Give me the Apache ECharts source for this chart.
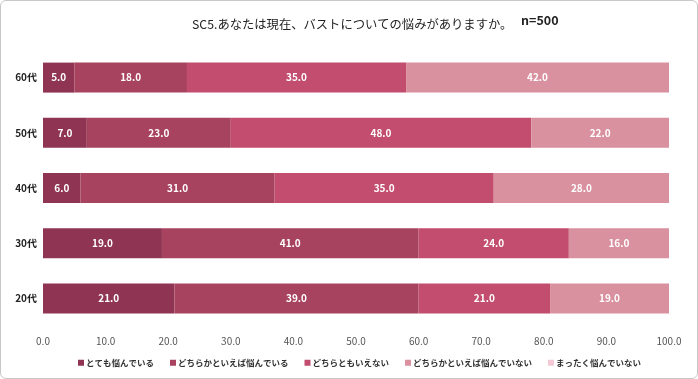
<!DOCTYPE html>
<html><head><meta charset="utf-8">
<script src="https://cdn.jsdelivr.net/npm/echarts@6/dist/echarts.min.js"></script>
<style>html,body{margin:0;padding:0;background:#fff}#c{width:698px;height:379px;box-sizing:border-box;border:1px solid #c8c8c8;border-radius:6px}</style>
</head><body><div id="c"></div>
<script>
const categories = ['20代','30代','40代','50代','60代'];
const seriesNames = ['とても悩んでいる','どちらかといえば悩んでいる','どちらともいえない','どちらかといえば悩んでいない','まったく悩んでいない'];
const s1 = [21.0, 19.0, 6.0, 7.0, 5.0];
const s2 = [39.0, 41.0, 31.0, 23.0, 18.0];
const s3 = [21.0, 24.0, 35.0, 48.0, 35.0];
const s4 = [19.0, 16.0, 28.0, 22.0, 42.0];
const s5 = [0, 0, 0, 0, 0];
const xTicks = [0,10,20,30,40,50,60,70,80,90,100];
const colors = ['#8f3553','#a8435f','#c24d6e','#d9909f','#f2c9d5'];
const font = '"Noto Sans CJK JP", sans-serif';
const chart = echarts.init(document.getElementById('c'));
const all = [s1,s2,s3,s4,s5];
chart.setOption({
  animation:false,
  title:{text:'SC5.あなたは現在、バストについての悩みがありますか。',left:186,top:12,textStyle:{fontFamily:font,fontSize:12.3,fontWeight:'normal',color:'#222'}},
  graphic:[{type:'text',left:520,top:13,style:{text:'n=500',font:'bold 12.5px '+font,fill:'#222'}}],
  legend:{bottom:6,left:72,itemWidth:6,itemHeight:6,itemGap:16,icon:'rect',textStyle:{fontFamily:font,fontSize:8.5,fontWeight:'bold',color:'#333',padding:[0,0,0,-3]}},
  grid:{left:42,right:28,top:49,bottom:52,containLabel:false},
  xAxis:{type:'value',min:0,max:100,interval:10,axisLine:{show:false},axisTick:{show:false},splitLine:{show:false},
    axisLabel:{formatter:v=>v.toFixed(1),color:'#555',fontSize:10,fontFamily:font,margin:10}},
  yAxis:{type:'category',data:categories,axisLine:{show:false},axisTick:{show:false},
    axisLabel:{color:'#222',fontWeight:'bold',fontSize:10,fontFamily:font,margin:6}},
  series: all.map((d,i)=>({name:seriesNames[i],type:'bar',stack:'t',data:d,barWidth:30,
    itemStyle:{color:colors[i]},
    label:{show:true,position:'inside',color:'#fff',fontWeight:'bold',fontSize:10,fontFamily:font,
      formatter:p=>p.value>0?p.value.toFixed(1):''}}))
});
</script></body></html>
